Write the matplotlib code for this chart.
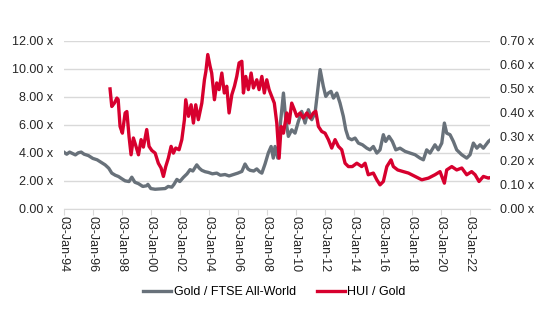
import matplotlib
matplotlib.use("Agg")
import matplotlib.pyplot as plt
from matplotlib.ticker import FuncFormatter, MultipleLocator

# --- data (decimal year, value) ---
gold_ftse_t = [1994.0, 1994.2, 1994.4, 1994.6, 1994.8, 1995.0, 1995.2, 1995.4, 1995.7, 1996.0,
               1996.3, 1996.6, 1996.85, 1997.1, 1997.31, 1997.55, 1997.77, 1998.0, 1998.23, 1998.5,
               1998.69, 1998.9, 1999.15, 1999.45, 1999.72, 1999.8, 2000.0, 2000.3, 2000.6, 2000.99,
               2001.2, 2001.45, 2001.6, 2001.8, 2002.0, 2002.25, 2002.5, 2002.71, 2002.9, 2003.17,
               2003.35, 2003.52, 2003.75, 2003.97, 2004.25, 2004.55, 2004.8, 2005.12, 2005.4, 2005.7,
               2006.0, 2006.28, 2006.5, 2006.7, 2006.85, 2007.1, 2007.31, 2007.5, 2007.66, 2007.88,
               2008.11, 2008.3, 2008.45, 2008.57, 2008.76, 2008.92, 2009.15, 2009.31, 2009.49, 2009.72,
               2009.95, 2010.18, 2010.41, 2010.64, 2010.87, 2011.1, 2011.33, 2011.52, 2011.68, 2011.9,
               2012.07, 2012.25, 2012.43, 2012.6, 2012.83, 2013.05, 2013.28, 2013.45, 2013.63, 2013.86,
               2014.09, 2014.32, 2014.6, 2014.9, 2015.12, 2015.35, 2015.59, 2015.81, 2016.04, 2016.2,
               2016.43, 2016.66, 2016.9, 2017.19, 2017.54, 2017.88, 2018.23, 2018.57, 2018.8, 2019.03,
               2019.26, 2019.6, 2019.83, 2020.07, 2020.25, 2020.41, 2020.64, 2020.87, 2021.1, 2021.45,
               2021.79, 2022.02, 2022.25, 2022.49, 2022.71, 2022.94, 2023.29, 2023.4]
gold_ftse_v = [4.05, 3.9, 4.05, 3.95, 3.85, 4.0, 4.05, 3.9, 3.8, 3.6,
               3.5, 3.3, 3.14, 2.9, 2.55, 2.4, 2.31, 2.15, 2.0, 1.95,
               2.26, 1.9, 1.8, 1.6, 1.65, 1.75, 1.45, 1.4, 1.42, 1.45,
               1.6, 1.55, 1.75, 2.1, 1.95, 2.25, 2.5, 2.8, 2.7, 3.14,
               2.9, 2.75, 2.65, 2.6, 2.5, 2.55, 2.4, 2.45, 2.35, 2.45,
               2.55, 2.67, 3.2, 2.85, 2.75, 2.7, 2.85, 2.65, 2.55, 3.2,
               4.0, 4.45, 3.62, 4.45, 3.62, 5.88, 8.26, 6.36, 5.17, 5.64,
               5.4, 6.24, 6.95, 6.12, 7.07, 6.36, 6.83, 8.5, 9.93, 8.74,
               8.02, 8.26, 8.38, 7.9, 8.26, 7.55, 6.6, 5.64, 5.05, 4.93,
               5.05, 4.69, 4.57, 4.33, 4.21, 4.45, 3.98, 4.21, 5.29, 4.81,
               5.17, 4.81, 4.21, 4.33, 4.1, 3.98, 3.86, 3.62, 3.5, 4.21,
               3.98, 4.57, 4.21, 4.69, 6.12, 5.4, 5.29, 4.81, 4.21, 3.86,
               3.62, 3.86, 4.69, 4.33, 4.57, 4.33, 4.81, 4.9]

hui_gold_t = [1997.19, 1997.31, 1997.49, 1997.66, 1997.75, 1997.88, 1998.04, 1998.23, 1998.35, 1998.5,
              1998.64, 1998.8, 1998.96, 1999.15, 1999.33, 1999.49, 1999.72, 1999.88, 2000.07, 2000.3,
              2000.52, 2000.71, 2000.87, 2001.03, 2001.21, 2001.4, 2001.56, 2001.72, 2001.95, 2002.14,
              2002.32, 2002.41, 2002.6, 2002.78, 2002.94, 2003.1, 2003.28, 2003.52, 2003.7, 2003.8,
              2003.93, 2004.09, 2004.2, 2004.39, 2004.55, 2004.71, 2004.9, 2005.07, 2005.24, 2005.4,
              2005.59, 2005.77, 2005.93, 2006.09, 2006.28, 2006.39, 2006.55, 2006.73, 2006.92, 2007.08,
              2007.31, 2007.47, 2007.66, 2007.83, 2008.0, 2008.16, 2008.34, 2008.52, 2008.69, 2008.85,
              2008.99, 2009.15, 2009.38, 2009.54, 2009.72, 2009.9, 2010.07, 2010.3, 2010.52, 2010.76,
              2010.99, 2011.21, 2011.38, 2011.56, 2011.79, 2012.02, 2012.25, 2012.48, 2012.71, 2012.94,
              2013.17, 2013.4, 2013.63, 2013.9, 2014.21, 2014.55, 2014.78, 2015.0, 2015.35, 2015.59,
              2015.81, 2016.04, 2016.28, 2016.57, 2016.73, 2017.03, 2017.42, 2017.77, 2018.23, 2018.69,
              2019.15, 2019.6, 2019.95, 2020.25, 2020.41, 2020.76, 2021.1, 2021.45, 2021.79, 2022.13,
              2022.37, 2022.64, 2022.94, 2023.29, 2023.4]
hui_gold_v = [0.499, 0.426, 0.44, 0.461, 0.455, 0.343, 0.315, 0.399, 0.405, 0.301,
              0.225, 0.295, 0.264, 0.225, 0.288, 0.257, 0.33, 0.26, 0.243, 0.232,
              0.19, 0.17, 0.135, 0.176, 0.211, 0.26, 0.232, 0.253, 0.246, 0.288,
              0.371, 0.454, 0.385, 0.433, 0.357, 0.433, 0.371, 0.44, 0.537, 0.572,
              0.642, 0.593, 0.565, 0.454, 0.524, 0.496, 0.565, 0.482, 0.51, 0.399,
              0.475, 0.51, 0.551, 0.607, 0.614, 0.482, 0.551, 0.496, 0.565, 0.503,
              0.537, 0.496, 0.551, 0.482, 0.537, 0.496, 0.468, 0.44, 0.357, 0.211,
              0.343, 0.315, 0.399, 0.357, 0.44, 0.413, 0.385, 0.399, 0.378, 0.399,
              0.378, 0.399, 0.406, 0.343, 0.322, 0.315, 0.288, 0.253, 0.288, 0.26,
              0.246, 0.19, 0.176, 0.176, 0.19, 0.176, 0.19, 0.142, 0.149, 0.121,
              0.10, 0.114, 0.176, 0.204, 0.176, 0.162, 0.155, 0.149, 0.135, 0.121,
              0.128, 0.142, 0.155, 0.107, 0.162, 0.176, 0.162, 0.17, 0.142, 0.155,
              0.142, 0.114, 0.135, 0.128, 0.13]

tick_years = [1994, 1996, 1998, 2000, 2002, 2004, 2006, 2008, 2010, 2012, 2014, 2016, 2018, 2020, 2022]
tick_labels = ["03-Jan-94", "03-Jan-96", "03-Jan-98", "03-Jan-00", "03-Jan-02", "03-Jan-04",
               "03-Jan-06", "03-Jan-08", "03-Jan-10", "03-Jan-12", "03-Jan-14", "03-Jan-16",
               "03-Jan-18", "03-Jan-20", "03-Jan-22"]

GRAY = "#68717a"
RED = "#d7002e"
TXT = "#262626"

plt.rcParams['font.family'] = ['Liberation Sans', 'DejaVu Sans']
plt.rcParams['font.size'] = 9

fig = plt.figure(figsize=(5.5, 3.3), dpi=100)
ax = fig.add_axes([0.116, 0.367, 0.775, 0.510])
ax2 = ax.twinx()

l1, = ax.plot(gold_ftse_t, gold_ftse_v, color=GRAY, lw=2.4, label="Gold / FTSE All-World", zorder=3)
l2, = ax2.plot(hui_gold_t, hui_gold_v, color=RED, lw=2.4, label="HUI / Gold", zorder=3)

ax.set_ylim(0, 12)
ax2.set_ylim(0, 0.70)
ax.set_xlim(1994.0, 2023.4)
ax.yaxis.set_major_locator(MultipleLocator(2))
ax2.yaxis.set_major_locator(MultipleLocator(0.1))
ax.yaxis.set_major_formatter(FuncFormatter(lambda v, p: f"{v:.2f} x"))
ax2.yaxis.set_major_formatter(FuncFormatter(lambda v, p: f"{v:.2f} x"))

ax.set_xticks([y + 0.005 for y in tick_years])
ax.set_xticklabels(tick_labels, rotation=-90, color=TXT)
ax.grid(axis='y', color='#d9d9d9', lw=1)
ax.set_axisbelow(True)

for a in (ax, ax2):
    for s in a.spines.values():
        s.set_visible(False)
ax.spines['bottom'].set_visible(True)
ax.spines['bottom'].set_color('#d9d9d9')
ax.tick_params(axis='y', length=0, colors=TXT, pad=8)
ax2.tick_params(axis='y', length=0, colors=TXT, pad=7)
ax.tick_params(axis='x', length=4, color='#d9d9d9', colors=TXT, pad=1)

fig.legend(handles=[l1, l2], loc='center', bbox_to_anchor=(0.499, 0.115), ncol=2, frameon=False,
           handlelength=2.25, handletextpad=0.2, columnspacing=1.65, fontsize=9)

fig.savefig("out.png", dpi=100, facecolor='white')
